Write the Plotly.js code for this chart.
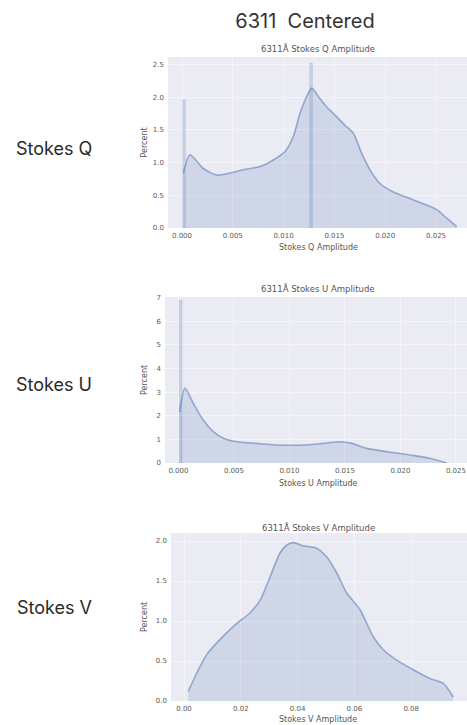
<!DOCTYPE html>
<html>
<head>
<meta charset="utf-8">
<script src="https://cdn.plot.ly/plotly-3.0.1.min.js"></script>
<style>html,body{margin:0;padding:0;background:#fff;}</style>
</head>
<body>
<div id="chart" style="width:467px;height:725px;"></div>
<script>
// Distribution of Stokes amplitudes, 6311 Å line (percent of pixels)

// Stokes Q: density curve and tall single-bin spikes
const qAmp = [0.00013, 0.00079, 0.00210, 0.00342, 0.00472, 0.00603, 0.00768, 0.00899, 0.01014, 0.01095, 0.01161, 0.01227, 0.01277, 0.01342, 0.01424, 0.01523, 0.01604, 0.01686, 0.01769, 0.01850, 0.01949, 0.02080, 0.02244, 0.02408, 0.02507, 0.02605, 0.02704];
const qPct = [0.84, 1.12, 0.91, 0.81, 0.84, 0.89, 0.94, 1.04, 1.17, 1.40, 1.75, 2.01, 2.14, 2.01, 1.85, 1.70, 1.57, 1.45, 1.14, 0.89, 0.68, 0.55, 0.45, 0.35, 0.28, 0.15, 0.02];
const qSpikeAmp = [0.0002, 0.0127];
const qSpikePct = [1.96, 2.52];

// Stokes U
const uAmp = [0.0001, 0.00059, 0.00134, 0.00224, 0.00314, 0.00405, 0.00525, 0.00705, 0.00915, 0.01125, 0.01305, 0.01456, 0.01561, 0.01696, 0.01877, 0.02086, 0.02266, 0.02417];
const uPct = [2.17, 3.17, 2.53, 1.82, 1.33, 1.05, 0.90, 0.83, 0.76, 0.76, 0.83, 0.90, 0.83, 0.62, 0.48, 0.34, 0.20, 0.00];
const uSpikeAmp = [0.0002];
const uSpikePct = [6.9];

// Stokes V
const vAmp = [0.0015, 0.0045, 0.0080, 0.0127, 0.0186, 0.0232, 0.0268, 0.0303, 0.0338, 0.0362, 0.0385, 0.0420, 0.0467, 0.0503, 0.0538, 0.0573, 0.0620, 0.0667, 0.0702, 0.0749, 0.0807, 0.0866, 0.0913, 0.0948];
const vPct = [0.12, 0.35, 0.58, 0.77, 0.97, 1.10, 1.26, 1.55, 1.85, 1.95, 1.98, 1.94, 1.91, 1.80, 1.60, 1.35, 1.14, 0.80, 0.64, 0.51, 0.39, 0.28, 0.22, 0.05];

// Tick labels
const qxTicks = [0, 0.005, 0.010, 0.015, 0.020, 0.025];
const qxLabels = ['0.000', '0.005', '0.010', '0.015', '0.020', '0.025'];
const qyTicks = [0, 0.5, 1.0, 1.5, 2.0, 2.5];
const qyLabels = ['0.0', '0.5', '1.0', '1.5', '2.0', '2.5'];
const uxTicks = [0, 0.005, 0.010, 0.015, 0.020, 0.025];
const uxLabels = ['0.000', '0.005', '0.010', '0.015', '0.020', '0.025'];
const uyTicks = [0, 1, 2, 3, 4, 5, 6, 7];
const uyLabels = ['0', '1', '2', '3', '4', '5', '6', '7'];
const vxTicks = [0, 0.02, 0.04, 0.06, 0.08];
const vxLabels = ['0.00', '0.02', '0.04', '0.06', '0.08'];
const vyTicks = [0, 0.5, 1.0, 1.5, 2.0];
const vyLabels = ['0.0', '0.5', '1.0', '1.5', '2.0'];

const W = 467, H = 725;
const fx = p => p / W;
const fy = p => 1 - p / H;

const LINE = 'rgba(76,114,176,0.52)';
const FILL = 'rgba(76,114,176,0.17)';
const BG = '#eaebf3';
const GRID = '#f4f4f9';
const PLOT_FONT = 'DejaVu Sans, sans-serif';
const LABEL_FONT = 'Inter, Roboto, sans-serif';

// panel boxes in pixels: left, right, top, bottom
const panels = [
  {key: '', box: [168, 467, 57, 228], xr: [-0.001378, 0.02805], yr: [0, 2.615],
   amp: qAmp, pct: qPct, sAmp: qSpikeAmp, sPct: qSpikePct, sW: 0.00026,
   xt: qxTicks, xl: qxLabels, yt: qyTicks, yl: qyLabels,
   title: '6311Å Stokes Q Amplitude', xtitle: 'Stokes Q Amplitude', side: 'Stokes Q',
   titleY: 49, xtitleY: 248, sideY: 148},
  {key: '2', box: [165, 467, 297, 463], xr: [-0.00121, 0.0260], yr: [0, 7.03],
   amp: uAmp, pct: uPct, sAmp: uSpikeAmp, sPct: uSpikePct, sW: 0.00024,
   xt: uxTicks, xl: uxLabels, yt: uyTicks, yl: uyLabels,
   title: '6311Å Stokes U Amplitude', xtitle: 'Stokes U Amplitude', side: 'Stokes U',
   titleY: 288, xtitleY: 484, sideY: 384},
  {key: '3', box: [171, 467, 533, 701], xr: [-0.00458, 0.09965], yr: [0, 2.1],
   amp: vAmp, pct: vPct, sAmp: [], sPct: [], sW: 0.001,
   xt: vxTicks, xl: vxLabels, yt: vyTicks, yl: vyLabels,
   title: '6311Å Stokes V Amplitude', xtitle: 'Stokes V Amplitude', side: 'Stokes V',
   titleY: 527, xtitleY: 719, sideY: 607}
];

const data = [];
const layout = {
  width: W, height: H,
  margin: {l: 0, r: 0, t: 0, b: 0},
  paper_bgcolor: '#ffffff',
  plot_bgcolor: BG,
  showlegend: false,
  title: {text: '6311  Centered', x: fx(305), xanchor: 'center', y: fy(21), yanchor: 'middle',
          font: {family: LABEL_FONT, size: 20, color: '#333333'}},
  annotations: [],
  bargap: 0
};

panels.forEach(p => {
  const xa = 'x' + p.key, ya = 'y' + p.key;
  data.push({
    type: 'bar', x: p.sAmp, y: p.sPct, width: p.sW, xaxis: xa, yaxis: ya,
    marker: {color: 'rgba(76,114,176,0.2)', line: {color: 'rgba(76,114,176,0.28)', width: 0.6}},
    hoverinfo: 'skip'
  });
  data.push({
    type: 'scatter', mode: 'lines', x: p.amp, y: p.pct, xaxis: xa, yaxis: ya,
    line: {color: LINE, width: 1.6, shape: 'spline', smoothing: 0.7},
    fill: 'tozeroy', fillcolor: FILL
  });
  const [l, r, t, b] = p.box;
  layout['xaxis' + p.key] = {
    domain: [fx(l), fx(r)], range: p.xr, anchor: ya,
    tickmode: 'array', tickvals: p.xt, ticktext: p.xl,
    showgrid: true, gridcolor: GRID, gridwidth: 1, zeroline: false,
    showline: false, ticks: '', ticklabelstandoff: 2,
    tickfont: {family: PLOT_FONT, size: 7, color: '#5a5a5a'}
  };
  layout['yaxis' + p.key] = {
    domain: [fy(b), fy(t)], range: p.yr, anchor: xa,
    tickmode: 'array', tickvals: p.yt, ticktext: p.yl,
    showgrid: true, gridcolor: GRID, gridwidth: 1, zeroline: false,
    showline: false, ticks: '', ticklabelstandoff: 3,
    tickfont: {family: PLOT_FONT, size: 7, color: '#5a5a5a'}
  };
  layout.annotations.push(
    {text: p.title, xref: 'paper', yref: 'paper', x: fx(318), y: fy(p.titleY),
     xanchor: 'center', yanchor: 'middle', showarrow: false,
     font: {family: PLOT_FONT, size: 8.5, color: '#555'}},
    {text: p.xtitle, xref: 'paper', yref: 'paper', x: fx(318), y: fy(p.xtitleY),
     xanchor: 'center', yanchor: 'middle', showarrow: false,
     font: {family: PLOT_FONT, size: 8, color: '#555'}},
    {text: 'Percent', xref: 'paper', yref: 'paper', x: fx(144), y: fy((t + b) / 2),
     xanchor: 'center', yanchor: 'middle', showarrow: false, textangle: -90,
     font: {family: PLOT_FONT, size: 8, color: '#555'}},
    {text: p.side, xref: 'paper', yref: 'paper', x: fx(54), y: fy(p.sideY),
     xanchor: 'center', yanchor: 'middle', showarrow: false,
     font: {family: LABEL_FONT, size: 18, color: '#2a2a2a'}}
  );
});

Plotly.newPlot('chart', data, layout, {staticPlot: true, displayModeBar: false});
</script>
</body>
</html>
